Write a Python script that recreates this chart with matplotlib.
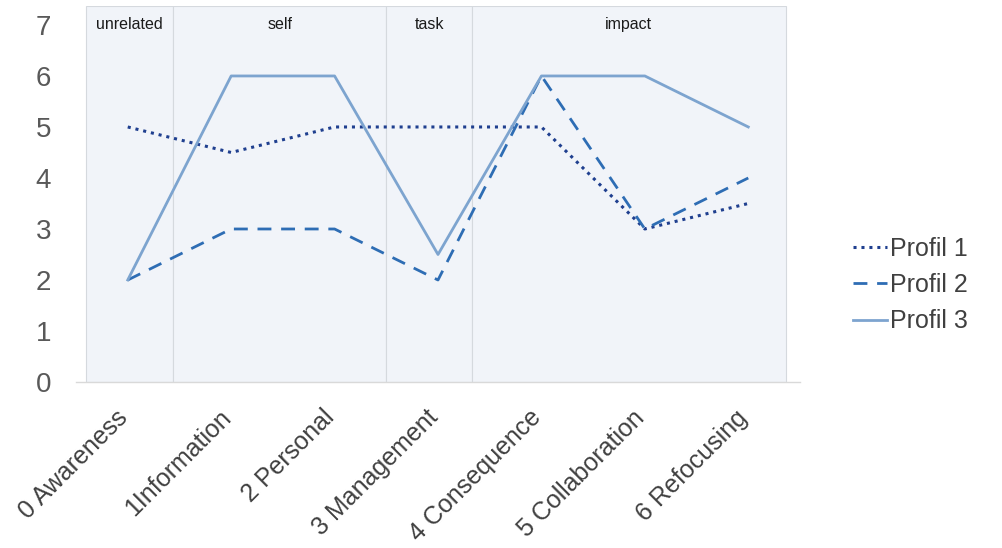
import matplotlib.pyplot as plt
from matplotlib.transforms import ScaledTranslation

categories = ['0 Awareness', '1Information', '2 Personal', '3 Management',
              '4 Consequence', '5 Collaboration', '6 Refocusing']
profil_1 = [5, 4.5, 5, 5, 5, 3, 3.5]
profil_2 = [2, 3, 3, 2, 6, 3, 4]
profil_3 = [2, 6, 6, 2.5, 6, 6, 5]

group_names = ['unrelated', 'self', 'task', 'impact']
group_bounds = [-0.40, 0.44, 2.50, 3.33, 6.36]

plt.rcParams['font.family'] = ['Liberation Sans', 'DejaVu Sans']

fig = plt.figure(figsize=(10.03, 5.48), dpi=100)
ax = fig.add_axes([0.0758, 0.3029, 0.7218, 0.686])

x = list(range(len(categories)))

# background panels for the groups
for i, name in enumerate(group_names):
	left, right = group_bounds[i], group_bounds[i + 1]
	ax.axvspan(left, right, ymin=0, ymax=1, facecolor='#f1f4f9', edgecolor='#d5d9de', linewidth=0.8, zorder=0)
	ax.text((left + right) / 2, 0.97, name, transform=ax.get_xaxis_transform(),
			ha='center', va='top', fontsize=11.5, color='#1a1a1a')

ax.plot(x, profil_1, linestyle=(0, (1, 1.6)), color='#1f3f8f', linewidth=2.2, label='Profil 1', zorder=3)
ax.plot(x, profil_2, linestyle=(0, (5, 3.5)), color='#2e6db4', linewidth=2, label='Profil 2', zorder=3)
ax.plot(x, profil_3, linestyle='-', color='#7da4cf', linewidth=2, label='Profil 3', zorder=3)

ax.set_xlim(-0.5, 6.5)
ax.set_ylim(0, 7.37)
ax.set_yticks(range(8))
ax.set_xticks(x)
ax.set_xticklabels(categories, rotation=45, ha='right', va='center', rotation_mode='anchor',
				   fontsize=18, color='#404040')
ax.tick_params(axis='y', length=0, pad=18, labelsize=20, labelcolor='#595959')
ax.tick_params(axis='x', length=0, pad=23)
# nudge the rotated labels a little to the left, like the original
for lbl in ax.get_xticklabels():
	lbl.set_transform(lbl.get_transform() + ScaledTranslation(-3 / 72, 0, fig.dpi_scale_trans))

for side in ['top', 'right', 'left']:
	ax.spines[side].set_visible(False)
ax.spines['bottom'].set_color('#d9d9d9')
ax.spines['bottom'].set_linewidth(1)
ax.set_facecolor('white')

fig.legend(loc='center left', bbox_to_anchor=(853 / 1003, 1 - 285 / 548), frameon=False, fontsize=18,
		   handlelength=1.35, handletextpad=0.15, labelspacing=0.5, borderpad=0, borderaxespad=0,
		   labelcolor='#404040')

plt.savefig('out.png', dpi=100)
